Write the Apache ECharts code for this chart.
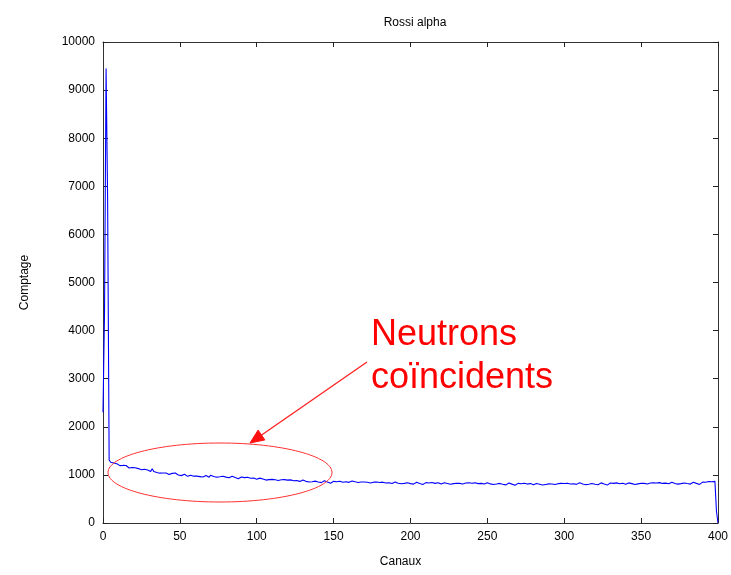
<!DOCTYPE html>
<html>
<head>
<meta charset="utf-8">
<script src="https://cdn.jsdelivr.net/npm/echarts@6/dist/echarts.min.js"></script>
<style>
html,body{margin:0;padding:0;background:#fff;}
#chart{width:731px;height:575px;}
</style>
</head>
<body>
<div id="chart"></div>
<script>
// Channel counts (Canaux 0..400)
var counts = [
2300, 4400, 9450, 6750, 1310,
1262, 1238, 1246, 1219, 1231,
1235, 1193, 1197, 1197, 1171, 1195, 1168, 1144, 1168, 1155,
1134, 1149, 1113, 1131, 1142, 1106, 1108, 1116, 1076, 1100,
1106, 1073, 1128, 1071, 1089, 1051, 1061, 1036, 1063, 1038,
1029, 1041, 1050, 1008, 1028, 1032, 1003, 1038, 1009, 999,
1012, 985, 1005, 1013, 990, 970, 1005, 994, 1007, 974,
997, 975, 1002, 965, 982, 955, 985, 989, 968, 953,
995, 959, 968, 974, 953, 983, 961, 943, 972, 965,
954, 972, 939, 960, 974, 941, 946, 957, 920, 947,
956, 926, 944, 930, 951, 916, 929, 907, 937, 915,
909, 923, 933, 893, 914, 920, 892, 929, 901, 893,
907, 880, 900, 908, 885, 865, 900, 889, 902, 869,
892, 871, 897, 861, 878, 852, 882, 887, 865, 851,
893, 857, 866, 872, 851, 881, 859, 841, 870, 863,
852, 871, 839, 862, 877, 845, 851, 864, 828, 856,
866, 838, 857, 845, 867, 834, 848, 828, 859, 839,
845, 861, 872, 838, 856, 866, 842, 879, 853, 847,
852, 826, 846, 855, 833, 813, 849, 839, 852, 820,
842, 822, 849, 814, 832, 807, 837, 843, 823, 810,
853, 818, 827, 834, 815, 845, 823, 806, 836, 830,
819, 839, 808, 831, 847, 816, 823, 836, 801, 830,
839, 811, 831, 819, 842, 809, 824, 804, 836, 816,
810, 826, 838, 800, 823, 831, 805, 844, 818, 812,
826, 801, 823, 833, 812, 794, 831, 822, 837, 806,
827, 807, 835, 800, 818, 793, 824, 830, 810, 797,
838, 803, 813, 820, 800, 831, 810, 793, 823, 817,
804, 824, 793, 816, 832, 801, 808, 821, 786, 815,
824, 796, 816, 804, 827, 794, 809, 789, 821, 801,
794, 810, 822, 784, 807, 815, 789, 828, 802, 796,
813, 788, 810, 820, 799, 781, 818, 809, 824, 793,
820, 800, 828, 793, 811, 786, 817, 823, 803, 790,
835, 800, 810, 817, 797, 828, 807, 790, 820, 814,
806, 826, 795, 818, 834, 803, 810, 823, 788, 817,
831, 803, 823, 811, 834, 801, 816, 796, 828, 808,
806, 822, 834, 796, 819, 827, 801, 840, 814, 808,
826, 801, 823, 833, 812, 794, 831, 822, 837, 806,
832, 812, 840, 805, 823, 798, 829, 835, 815, 802,
847, 812, 822, 829, 809, 840, 819, 802, 832, 826,
820, 840, 809, 832, 848, 817, 824, 837, 802, 831,
851, 828, 848, 836, 862, 845, 858, 840, 866,
250, 0
];
var xTicks = [0, 50, 100, 150, 200, 250, 300, 350, 400];
var yTicks = [0, 1000, 2000, 3000, 4000, 5000, 6000, 7000, 8000, 9000, 10000];
var titleText = 'Rossi alpha';
var xName = 'Canaux';
var yName = 'Comptage';
var noteLines = ['Neutrons', 'coïncidents'];

var seriesData = counts.map(function (v, i) { return [i, v]; });

var FONT = "'Liberation Sans', Arial, sans-serif";
var chart = echarts.init(document.getElementById('chart'), null, {renderer: 'canvas'});

var axisCommon = {
  axisLine: {show: true, onZero: false, lineStyle: {color: '#333', width: 1}},
  axisTick: {show: true, inside: true, length: 5, lineStyle: {color: '#222', width: 1}},
  splitLine: {show: false}
};
function plain(v) { return String(v); }

var option = {
  backgroundColor: '#ffffff',
  animation: false,
  title: {
    text: titleText,
    left: 410,
    top: 12,
    textAlign: 'center',
    textStyle: {fontFamily: FONT, fontSize: 12, fontWeight: 'normal', color: '#000'}
  },
  grid: {left: 103, top: 42, width: 615, height: 481, show: false},
  xAxis: [
    Object.assign({
      type: 'value', min: xTicks[0], max: xTicks[xTicks.length - 1], interval: 50,
      position: 'bottom',
      name: xName, nameLocation: 'middle', nameGap: 33,
      nameTextStyle: {fontFamily: FONT, fontSize: 12, color: '#000', padding: [0, 20, 0, 0]},
      axisLabel: {show: true, margin: 8, fontFamily: FONT, fontSize: 12, color: '#000', formatter: plain}
    }, axisCommon),
    Object.assign({
      type: 'value', min: xTicks[0], max: xTicks[xTicks.length - 1], interval: 50,
      position: 'top',
      axisLabel: {show: false}
    }, axisCommon)
  ],
  yAxis: [
    Object.assign({
      type: 'value', min: yTicks[0], max: yTicks[yTicks.length - 1], interval: 1000,
      position: 'left',
      name: yName, nameLocation: 'middle', nameGap: 72,
      nameTextStyle: {fontFamily: FONT, fontSize: 12, color: '#000'},
      axisLabel: {show: true, margin: 8, fontFamily: FONT, fontSize: 12, color: '#000', formatter: plain}
    }, axisCommon),
    Object.assign({
      type: 'value', min: yTicks[0], max: yTicks[yTicks.length - 1], interval: 1000,
      position: 'right',
      axisLabel: {show: false}
    }, axisCommon)
  ],
  series: [{
    type: 'line',
    xAxisIndex: 0,
    yAxisIndex: 0,
    data: seriesData,
    showSymbol: false,
    symbol: 'none',
    lineStyle: {color: '#0000ff', width: 1.1},
    itemStyle: {color: '#0000ff'},
    z: 3
  }],
  graphic: [
    {
      type: 'ellipse',
      shape: {cx: 220, cy: 472.5, rx: 112, ry: 29.5},
      style: {fill: 'none', stroke: '#ff3030', lineWidth: 1},
      z: 10
    },
    {
      type: 'line',
      shape: {x1: 367, y1: 362, x2: 258, y2: 437.5},
      style: {stroke: '#ff2020', lineWidth: 1.3},
      z: 10
    },
    {
      type: 'polygon',
      shape: {points: [[250, 443], [264.9, 439.9], [258.1, 430.1]]},
      style: {fill: '#ff1010', stroke: '#ff1010', lineWidth: 1},
      z: 10
    },
    {
      type: 'text',
      left: 371,
      top: 314,
      style: {
        text: noteLines.join('\n'),
        fontFamily: "'Liberation Sans', Arial, sans-serif",
        fontSize: 36,
        lineHeight: 43,
        fill: '#ff0000'
      },
      z: 10
    }
  ]
};
chart.setOption(option);
</script>
</body>
</html>
